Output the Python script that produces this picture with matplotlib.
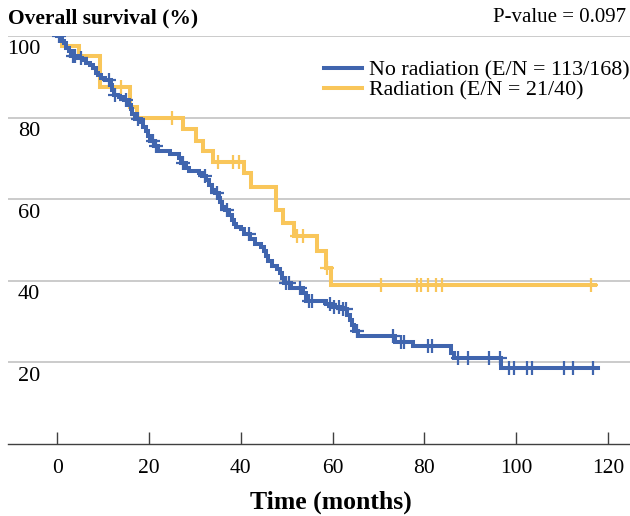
import numpy as np
import matplotlib
matplotlib.use('Agg')
import matplotlib.pyplot as plt
import matplotlib.transforms as mtransforms
from matplotlib.lines import Line2D

plt.rcParams['font.family'] = ['Liberation Serif', 'DejaVu Serif']

# ---- data ----
no_rad_times = [1.0, 1.5, 2.0, 2.6, 3.0, 4.5, 5.5, 6.3, 7.2, 7.8, 8.5, 9.0, 9.6,
                10.5, 11.8, 12.0, 12.4, 13.5, 14.5, 15.6, 16.0, 16.4, 17.0, 18.2,
                18.7, 19.3, 19.8, 20.3, 21.3, 22.0, 24.6, 26.5, 26.9, 28.0, 28.8,
                30.8, 31.6, 32.4, 33.0, 33.8, 34.3, 35.2, 35.5, 36.0, 36.6, 37.4,
                38.0, 38.5, 39.0, 40.0, 40.8, 42.0, 43.0, 44.5, 45.0, 45.6, 46.0,
                46.8, 48.0, 48.5, 49.0, 49.5, 51.0, 53.5, 54.2, 58.5, 59.8, 61.8,
                63.2, 63.8, 64.2, 64.6, 65.5, 73.5, 77.5, 85.8, 86.5, 96.6]
no_rad_surv = [98.8, 98.2, 97.0, 96.4, 95.2, 94.6, 94.0, 93.4, 92.8, 92.2, 91.0, 90.4, 89.8,
               89.2, 88.0, 86.8, 85.6, 85.0, 84.4, 83.2, 82.0, 80.8, 79.6, 79.0,
               77.8, 76.6, 75.4, 74.2, 73.0, 71.8, 71.2, 70.0, 68.8, 67.6, 67.0,
               66.4, 65.8, 64.6, 63.4, 62.2, 61.6, 60.4, 59.2, 58.0, 57.4, 56.2,
               55.0, 53.8, 53.2, 52.6, 51.4, 50.2, 49.0, 48.4, 47.2, 46.0, 44.8,
               43.6, 43.0, 41.8, 40.6, 39.4, 38.2, 37.0, 35.0, 34.3, 33.6, 33.0,
               31.7, 30.4, 29.1, 27.8, 26.5, 25.1, 23.9, 22.3, 21.0, 18.6]
no_rad_censor = [0.5, 3.4, 4.0, 5.2, 11.3, 12.6, 15.1, 17.6, 20.9, 21.6, 27.5, 32.2,
                 34.8, 37.1, 41.7, 49.8, 50.5, 53.0, 54.9, 55.6, 59.4, 60.3, 61.4,
                 62.3, 62.9, 65.3, 73.2, 75.0, 75.6, 80.9, 81.7, 87.4, 89.6, 94.0,
                 96.4, 98.4, 99.5, 102.4, 103.5, 110.5, 112.4, 116.8]
no_rad_end = 117.8

rad_times = [1.0, 4.8, 9.3, 15.8, 17.5, 27.5, 30.2, 31.7, 34.0, 40.8, 42.3, 47.7,
             49.2, 51.6, 56.6, 58.5, 59.7]
rad_surv = [97.5, 95.0, 87.5, 82.5, 80.0, 77.1, 74.3, 71.7, 69.2, 66.3, 63.1, 57.4,
            54.1, 51.0, 47.3, 43.1, 39.0]
rad_censor = [14.0, 25.1, 35.0, 38.3, 39.6, 52.3, 53.6, 58.8, 70.5, 78.3, 79.3,
              80.7, 82.5, 83.8, 116.3]
rad_end = 117.2

labels = ['No radiation (E/N = 113/168)', 'Radiation (E/N = 21/40)']
colors = ['#4065AE', '#F9C65A']
xticks = [0, 20, 40, 60, 80, 100, 120]
yticks = [20, 40, 60, 80, 100]
ytick_labels = ['20', '40', '60', '80', '100']

fig = plt.figure(figsize=(6.3, 5.16), dpi=100)
ax = fig.add_axes([8 / 630, 72 / 516, 622 / 630, 408 / 516])
ax.set_xlim(-10.7, 124.8)
ax.set_ylim(0, 100)


def km(times, surv, censor, end, color):
    t = np.r_[0.0, times, end]
    s = np.r_[100.0, surv, surv[-1]]
    ax.step(t, s, where='post', color=color, lw=2.9, zorder=3,
            solid_joinstyle='miter')
    idx = np.searchsorted(t, censor, side='right') - 1
    ax.plot(censor, s[idx], ls='none', marker='+', ms=10, mew=1.6,
            color=color, zorder=4)


km(rad_times, rad_surv, rad_censor, rad_end, colors[1])
km(no_rad_times, no_rad_surv, no_rad_censor, no_rad_end, colors[0])

for s in ['top', 'left', 'right']:
    ax.spines[s].set_visible(False)
ax.spines['bottom'].set_color('#404040')
ax.spines['bottom'].set_linewidth(1.0)

ax.set_xticks(xticks)
ax.set_xticklabels([str(v) for v in xticks], fontsize=15.5)
ax.tick_params(axis='x', direction='in', length=9, width=1.0, color='#404040',
               pad=11)
ax.set_yticks(yticks)
ax.set_yticklabels([])
ax.tick_params(axis='y', length=0)
ax.yaxis.grid(True, color='#BDBDBD', lw=1.1)
ax.set_axisbelow(True)

trans = mtransforms.blended_transform_factory(ax.transAxes, ax.transData) + \
    mtransforms.ScaledTranslation(0, -10 / 72, fig.dpi_scale_trans)
for v, lab in zip(yticks, ytick_labels):
    ax.text(32 / 622, v, lab, transform=trans, ha='right', va='center',
            fontsize=16)

ax.set_xlabel('Time (months)', fontsize=18.5, fontweight='bold', labelpad=9)
ax.xaxis.set_label_coords((331 - 8) / 622, -0.115)

fig.text(8 / 630, 1 - 18 / 516, 'Overall survival (%)', fontsize=15.5,
         fontweight='bold', ha='left', va='center')
fig.text(626 / 630, 1 - 18 / 516, 'P-value = 0.097', fontsize=15,
         ha='right', va='center')

handles = [Line2D([], [], color=colors[0], lw=2.9),
           Line2D([], [], color=colors[1], lw=2.9)]
ax.legend(handles, labels, loc='upper right', bbox_to_anchor=(630 / 630, 1 - 60 / 516),
          bbox_transform=fig.transFigure, frameon=False, fontsize=15.8,
          handlelength=1.7, handletextpad=0.35, labelspacing=0.0,
          borderaxespad=0, borderpad=0)

fig.savefig('out.png', dpi=100)
